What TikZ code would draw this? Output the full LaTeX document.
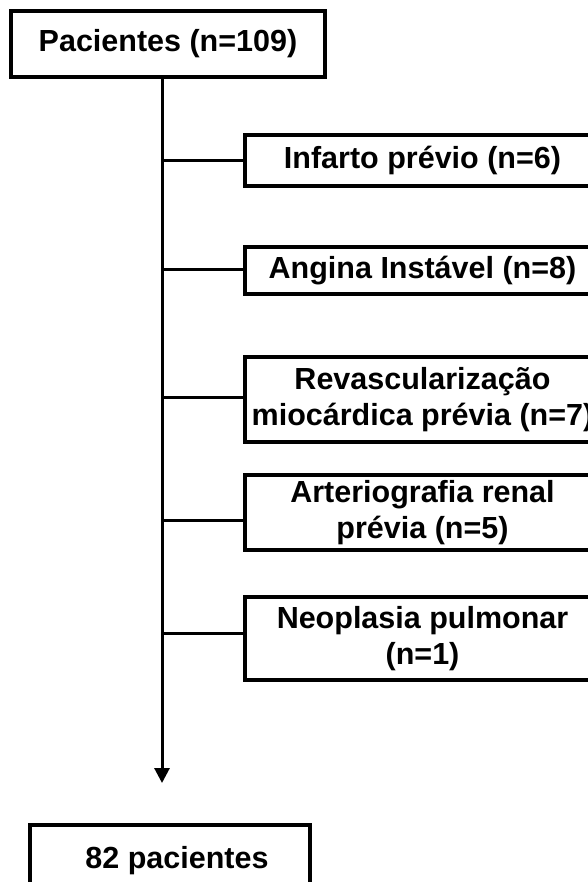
\documentclass[tikz,border=0pt]{standalone}
\usepackage{fontspec}
\setmainfont{Liberation Sans}
\usetikzlibrary{arrows.meta}
\tikzset{
  box/.style={draw=black, line width=3.2pt, rectangle, inner sep=0pt, align=center,
    font=\fontsize{30.5}{36}\selectfont\bfseries},
  sidebox/.style={box, minimum width=355pt},
  link/.style={draw=black, line width=3pt},
  txt/.style={inner sep=0pt, font=\fontsize{30.5}{36}\selectfont\bfseries}
}
\begin{document}
\begin{tikzpicture}[x=1pt,y=-1pt]
\useasboundingbox (0,0) rectangle (588,882);
\clip (0,0) rectangle (588,882);
\node[box, minimum width=314pt, minimum height=66pt] (top) at (168,44) {Pacientes (n=109)};
\node[sidebox, minimum height=51pt] (b1) at (422.5,160.5) {Infarto prévio (n=6)};
\node[sidebox, minimum height=47pt] (b2) at (422.5,270.5) {Angina Instável (n=8)};
\node[sidebox, minimum height=85pt] (b3) at (422.5,399.5) {Revascularização\\miocárdica prévia (n=7)};
\node[sidebox, minimum height=75pt] (b4) at (422.5,512.5) {Arteriografia renal\\prévia (n=5)};
\node[sidebox, minimum height=83pt] (b5) at (422.5,638.5) {Neoplasia pulmonar\\(n=1)};
\node[box, minimum width=280pt, minimum height=75pt] (bot) at (170,862.5) {};
\node[txt] (bottxt) at (177,861) {82 pacientes};
\coordinate (tip) at (162,783);
\coordinate (j1) at (162,161);
\coordinate (j2) at (162,270);
\coordinate (j3) at (162,397);
\coordinate (j4) at (162,520);
\coordinate (j5) at (162,633);
\draw[link, -{Triangle[length=15pt,width=15pt]}] (top.south -| tip) -- (tip);
\draw[link] (j1) -- (j1 -| b1.west);
\draw[link] (j2) -- (j2 -| b2.west);
\draw[link] (j3) -- (j3 -| b3.west);
\draw[link] (j4) -- (j4 -| b4.west);
\draw[link] (j5) -- (j5 -| b5.west);
\end{tikzpicture}
\end{document}
